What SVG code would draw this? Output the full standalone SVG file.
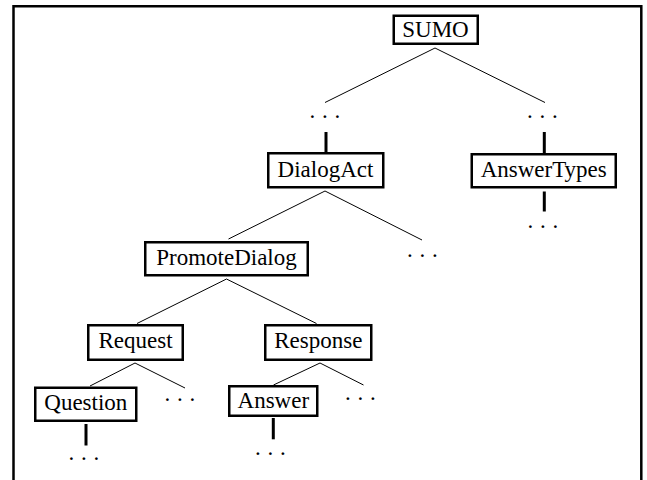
<svg xmlns="http://www.w3.org/2000/svg" width="647" height="480" viewBox="0 0 647 480">
<style>
.box{fill:#fff;stroke:#000;stroke-width:2.5}
.lbl{font-family:"Liberation Serif","Times New Roman",serif;font-size:23px;fill:#000;text-anchor:middle}
.dots{font-family:"Liberation Serif","Times New Roman",serif;font-size:23px;fill:#000;letter-spacing:6.75px}
.thin{stroke:#000;stroke-width:1;fill:none}
.thick{stroke:#000;stroke-width:3;fill:none}
</style>
<rect width="647" height="480" fill="#fff"/>
<path d="M13.5,482 V6.3 H641.3 V482" fill="none" stroke="#000" stroke-width="2.5"/>
<g id="connectors">
<line class="thin" x1="435" y1="48" x2="325" y2="102.5"/>
<line class="thin" x1="435" y1="48" x2="545" y2="102.5"/>
<line class="thin" x1="325" y1="191" x2="228.5" y2="239"/>
<line class="thin" x1="325" y1="191" x2="422" y2="240"/>
<line class="thin" x1="226.5" y1="279" x2="137" y2="323.5"/>
<line class="thin" x1="226.5" y1="279" x2="316.5" y2="323.5"/>
<line class="thin" x1="135" y1="363" x2="90" y2="386"/>
<line class="thin" x1="135" y1="363" x2="185" y2="388"/>
<line class="thin" x1="320" y1="363" x2="273.5" y2="385"/>
<line class="thin" x1="320" y1="363" x2="363.5" y2="385"/>
<line class="thick" x1="326" y1="132" x2="326" y2="152"/>
<line class="thick" x1="544.3" y1="132" x2="544.3" y2="153"/>
<line class="thick" x1="544.3" y1="191.5" x2="544.3" y2="211.5"/>
<line class="thick" x1="86" y1="424" x2="86" y2="445.5"/>
<line class="thick" x1="273.3" y1="418" x2="273.3" y2="439.3"/>
</g>
<g id="sumo"><rect class="box" x="393.75" y="15.75" width="84" height="28"/><text class="lbl" x="435.5" y="36.5">SUMO</text></g>
<g id="dots1"><text class="dots" x="309.6" y="117.5">...</text></g>
<g id="dots2"><text class="dots" x="527.1" y="117.5">...</text></g>
<g id="dialogact"><rect class="box" x="268.25" y="153.25" width="115" height="34"/><text class="lbl" x="325.5" y="177">DialogAct</text></g>
<g id="answertypes"><rect class="box" x="471.75" y="154.25" width="144" height="33"/><text class="lbl" x="543.7" y="177">AnswerTypes</text></g>
<g id="dots3"><text class="dots" x="527.6" y="228.2">...</text></g>
<g id="promotedialog"><rect class="box" x="145.25" y="242.25" width="162.5" height="33"/><text class="lbl" x="226.5" y="265">PromoteDialog</text></g>
<g id="dots4"><text class="dots" x="407.1" y="256.5">...</text></g>
<g id="request"><rect class="box" x="88.25" y="325.25" width="94.5" height="34.5"/><text class="lbl" x="135.5" y="348.3">Request</text></g>
<g id="response"><rect class="box" x="265.25" y="325.25" width="106" height="34.5"/><text class="lbl" x="318.3" y="348.3">Response</text></g>
<g id="question"><rect class="box" x="35.25" y="387.75" width="101" height="33"/><text class="lbl" x="85.8" y="410">Question</text></g>
<g id="dots5"><text class="dots" x="164.6" y="400.8">...</text></g>
<g id="answer"><rect class="box" x="229.25" y="386.25" width="88" height="29.5"/><text class="lbl" x="273.3" y="408.3">Answer</text></g>
<g id="dots6"><text class="dots" x="345.1" y="399.5">...</text></g>
<g id="dots7"><text class="dots" x="68.6" y="459.8">...</text></g>
<g id="dots8"><text class="dots" x="255.1" y="454.8">...</text></g>
</svg>
